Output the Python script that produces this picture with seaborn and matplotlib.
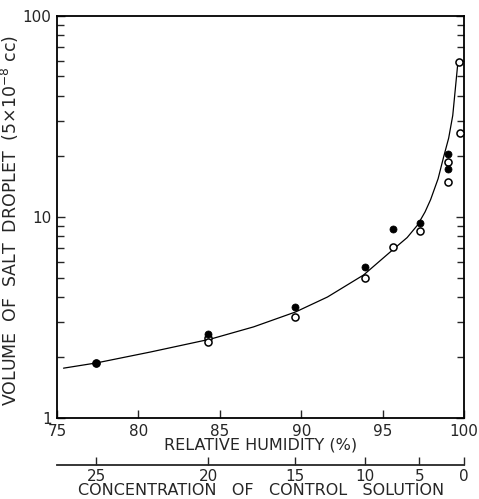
import numpy as np
import pandas as pd
import matplotlib
matplotlib.use("Agg")
import matplotlib.pyplot as plt
import seaborn as sns

# ---- data ----
filled_rh = [77.4, 84.3, 89.6, 93.9, 95.65, 97.3, 98.98, 98.98]
filled_vol = [1.88, 2.62, 3.57, 5.64, 8.7, 9.33, 20.6, 17.3]

open_rh = [77.4, 84.3, 84.3, 89.6, 93.9, 95.65, 97.3, 98.98, 98.98, 99.72, 99.66]
open_vol = [1.88, 2.5, 2.4, 3.18, 4.97, 7.1, 8.5, 18.8, 14.9, 26.2, 59.0]

curve_rh = [75.4, 77.43, 80.74, 84.43, 87.07, 89.65, 91.61, 93.83, 95.6,
            96.5, 97.14, 97.6, 97.94, 98.4, 98.74, 99.05, 99.3, 99.6]
curve_vol = [1.77, 1.88, 2.13, 2.47, 2.84, 3.37, 4.0, 5.15, 6.85,
             7.9, 9.12, 10.6, 12.2, 15.5, 19.9, 24.7, 32.0, 57.0]

rh_ticks = [75, 80, 85, 90, 95, 100]
conc_labels = [25, 20, 15, 10, 5, 0]
conc_tick_rh = [77.4, 84.3, 89.6, 93.9, 97.25, 100.0]

sns.set_style("ticks")
plt.rcParams['font.family'] = ['DejaVu Sans']

fig = plt.figure(figsize=(4.79, 4.99), dpi=100)
ax = fig.add_axes([0.119, 0.1623, 0.850, 0.8057])

curve_df = pd.DataFrame({"rh": curve_rh, "vol": curve_vol})
filled_df = pd.DataFrame({"rh": filled_rh, "vol": filled_vol})
open_df = pd.DataFrame({"rh": open_rh, "vol": open_vol})

sns.lineplot(data=curve_df, x="rh", y="vol", ax=ax, color="black",
             linewidth=0.9, sort=False, estimator=None)
sns.scatterplot(data=open_df, x="rh", y="vol", ax=ax, color="white",
                edgecolor="black", linewidth=1.1, s=26, zorder=3)
sns.scatterplot(data=filled_df, x="rh", y="vol", ax=ax, color="black",
                edgecolor="black", linewidth=0.5, s=26, zorder=4)

ax.set_yscale("log")
ax.set_xlim(75, 100)
ax.set_ylim(1, 100)
ax.set_xticks(rh_ticks)
ax.set_xticklabels([str(t) for t in rh_ticks], fontsize=11)
ax.set_yticks([1, 10, 100])
ax.set_yticklabels(["1", "10", "100"], fontsize=11)
ax.tick_params(axis="both", which="major", direction="in", length=6,
               width=1.0, top=True, right=True, pad=4)
ax.tick_params(axis="y", which="minor", direction="in", length=5,
               width=1.0, left=True, right=True)
ax.tick_params(axis="x", which="minor", bottom=False, top=False)
for s in ax.spines.values():
    s.set_linewidth(1.3)
    s.set_color("black")

ax.set_xlabel("RELATIVE HUMIDITY (%)", fontsize=11.5, labelpad=-1)
ax.set_ylabel("VOLUME  OF  SALT  DROPLET  (5×10$^{-8}$ cc)", fontsize=12.5)
ax.yaxis.set_label_coords(-0.088, 0.49)

# secondary concentration axis below
ax2 = ax.twiny()
ax2.set_xlim(75, 100)
ax2.xaxis.set_ticks_position("bottom")
ax2.xaxis.set_label_position("bottom")
ax2.spines["bottom"].set_position(("axes", -0.117))
for k in ["top", "left", "right"]:
    ax2.spines[k].set_visible(False)
ax2.spines["bottom"].set_linewidth(1.3)
ax2.set_xticks(conc_tick_rh)
ax2.set_xticklabels([str(c) for c in conc_labels], fontsize=11)
ax2.tick_params(axis="x", direction="in", length=6, width=1.0, pad=3)
ax2.set_xlabel("CONCENTRATION   OF   CONTROL   SOLUTION", fontsize=11.5,
               labelpad=-1)

fig.savefig("out.png", dpi=100)
